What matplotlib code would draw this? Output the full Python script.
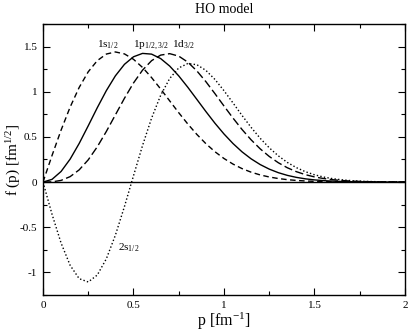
import matplotlib
matplotlib.use("Agg")
import matplotlib.pyplot as plt
from matplotlib.ticker import MultipleLocator, FuncFormatter

plt.rcParams['font.family'] = ['Liberation Serif', 'DejaVu Serif']
plt.rcParams['mathtext.fontset'] = 'custom'
plt.rcParams['mathtext.rm'] = 'Liberation Serif'
plt.rcParams['mathtext.it'] = 'Liberation Serif:italic'

p = [0.00, 0.05, 0.10, 0.15, 0.20, 0.25, 0.30, 0.35, 0.40, 0.45,
     0.50, 0.55, 0.60, 0.65, 0.70, 0.75, 0.80, 0.85, 0.90, 0.95,
     1.00, 1.05, 1.10, 1.15, 1.20, 1.25, 1.30, 1.35, 1.40, 1.45,
     1.50, 1.55, 1.60, 1.65, 1.70, 1.75, 1.80, 1.85, 1.90, 1.95, 2.00]

f_1s = [0.0, 0.2946, 0.5755, 0.8302, 1.0480, 1.2210, 1.3446, 1.4172, 1.4405, 1.4190,
        1.3592, 1.2689, 1.1566, 1.0306, 0.8989, 0.7679, 0.6429, 0.5278, 0.4251, 0.3361,
        0.2609, 0.1989, 0.1488, 0.1095, 0.0792, 0.0563, 0.0393, 0.0269, 0.0182, 0.0121,
        0.0079, 0.0051, 0.0032, 0.0020, 0.0012, 0.0007, 0.0004, 0.0002, 0.0001, 0.0001, 0.0]

f_1p = [0.0, 0.0301, 0.1175, 0.2542, 0.4278, 0.6230, 0.8233, 1.0124, 1.1761, 1.3033,
        1.3871, 1.4245, 1.4164, 1.3673, 1.2843, 1.1754, 1.0497, 0.9157, 0.7810, 0.6516,
        0.5325, 0.4263, 0.3342, 0.2571, 0.1939, 0.1435, 0.1042, 0.0742, 0.0520, 0.0357,
        0.0241, 0.0160, 0.0104, 0.0067, 0.0042, 0.0026, 0.0016, 0.0009, 0.0006, 0.0003, 0.0002]

f_1d = [0.0, 0.0024, 0.0186, 0.0603, 0.1353, 0.2463, 0.3906, 0.5604, 0.7440, 0.9275,
        1.0968, 1.2390, 1.3440, 1.4056, 1.4217, 1.3942, 1.3281, 1.2309, 1.1116, 0.9790,
        0.8421, 0.7080, 0.5814, 0.4675, 0.3679, 0.2837, 0.2143, 0.1584, 0.1152, 0.0819,
        0.0572, 0.0392, 0.0263, 0.0174, 0.0113, 0.0072, 0.0045, 0.0028, 0.0017, 0.0010, 0.0006]

f_2s = [0.0, -0.3570, -0.6754, -0.9213, -1.0695, -1.1059, -1.0291, -0.8497, -0.5880, -0.2715,
        0.0694, 0.4047, 0.7082, 0.9598, 1.1466, 1.2636, 1.3121, 1.2995, 1.2366, 1.1361,
        1.0117, 0.8755, 0.7367, 0.6050, 0.4847, 0.3796, 0.2907, 0.2175, 0.1598, 0.1146,
        0.0807, 0.0558, 0.0377, 0.0251, 0.0163, 0.0104, 0.0066, 0.0040, 0.0024, 0.0015, 0.0008]

fig = plt.figure(figsize=(4.09, 3.31), dpi=100)
ax = fig.add_axes([0.1051, 0.1088, 0.8851, 0.8187])

ax.axhline(0, color='black', lw=1.0)
ax.plot(p, f_1s, color='black', lw=1.0, dashes=(4.0, 2.5))
ax.plot(p, f_1p, color='black', lw=1.0, ls='-')
ax.plot(p, f_1d, color='black', lw=1.0, dashes=(6.0, 2.5))
ax.plot(p, f_2s, color='black', lw=1.0, dashes=(1.0, 1.6))

ax.set_xlim(0, 2)
ax.set_ylim(-1.25, 1.75)
ax.xaxis.set_major_locator(MultipleLocator(0.5))
ax.xaxis.set_minor_locator(MultipleLocator(0.25))
ax.yaxis.set_major_locator(MultipleLocator(0.5))
ax.yaxis.set_minor_locator(MultipleLocator(0.25))
ax.tick_params(which='both', direction='in', top=True, right=True, labelsize=8)
ax.tick_params(which='major', length=5, width=0.8, pad=4)
ax.tick_params(which='minor', length=3, width=0.8)

fmt = FuncFormatter(lambda v, pos: '%g' % v)
ax.xaxis.set_major_formatter(fmt)
ax.yaxis.set_major_formatter(fmt)

for s in ax.spines.values():
    s.set_linewidth(1.0)

ax.text(0.30, 1.49, r'1s$_{\mathregular{1/2}}$', fontsize=8)
ax.text(0.50, 1.49, r'1p$_{\mathregular{1/2,3/2}}$', fontsize=8)
ax.text(0.715, 1.49, r'1d$_{\mathregular{3/2}}$', fontsize=8)
ax.text(0.415, -0.76, r'2s$_{\mathregular{1/2}}$', fontsize=8)

ax.set_title('HO model', fontsize=10, pad=8)
ax.set_xlabel(r'p [fm$^{\mathregular{-1}}$]', fontsize=11.5)
ax.set_ylabel(r'f (p) [fm$^{\mathregular{1/2}}$]', fontsize=11)
ax.xaxis.set_label_coords(0.5, -0.058)
ax.yaxis.set_label_coords(-0.056, 0.5)

fig.savefig('out.png', dpi=100)
